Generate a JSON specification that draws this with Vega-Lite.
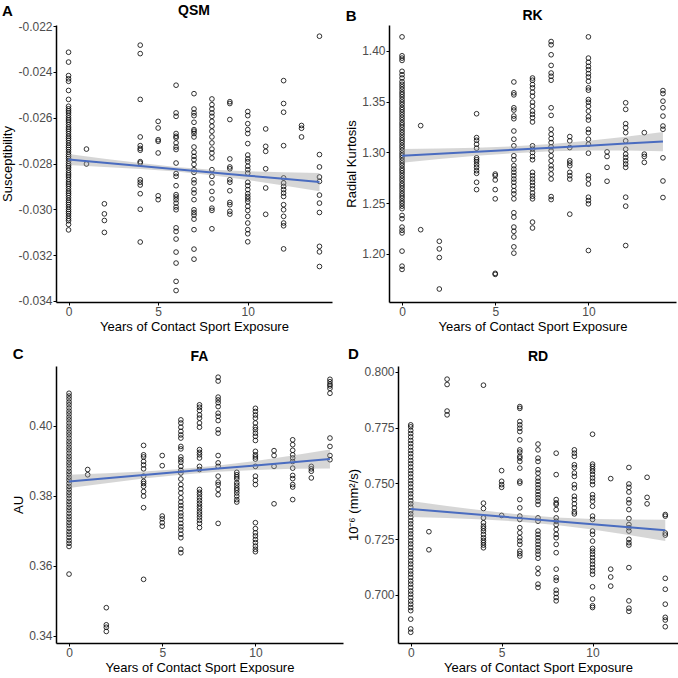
{
"$schema":"https://vega.github.io/schema/vega-lite/v6.json",
"background":"white",
"padding":{"left":1,"top":4,"right":0,"bottom":0},
"config":{"font":"Liberation Sans","view":{"stroke":null},
 "axis":{"grid":false,"domainColor":"black","domainWidth":1.5,"tickColor":"black","tickWidth":1,"tickSize":3,"labelColor":"#4d4d4d","labelFontSize":12,"labelPadding":1,"titleFontSize":13,"titleFontWeight":"normal","titleColor":"black","titlePadding":3},
 "title":{"fontSize":14,"fontWeight":"bold","color":"black"}},
"datasets":{
"pA":[
{"x":0,"y":-0.02314},{"x":0,"y":-0.02357},{"x":0,"y":-0.02416},{"x":0,"y":-0.0243},{"x":0,"y":-0.02441},{"x":0,"y":-0.02481},{"x":0,"y":-0.0252},{"x":0,"y":-0.0309},{"x":0,"y":-0.03066},
{"x":0,"y":-0.0255},{"x":0,"y":-0.02561},{"x":0,"y":-0.0257},{"x":0,"y":-0.02579},{"x":0,"y":-0.0259},{"x":0,"y":-0.02601},{"x":0,"y":-0.0261},{"x":0,"y":-0.02619},{"x":0,"y":-0.0263},{"x":0,"y":-0.02641},{"x":0,"y":-0.0265},{"x":0,"y":-0.02659},{"x":0,"y":-0.0267},{"x":0,"y":-0.02681},{"x":0,"y":-0.0269},{"x":0,"y":-0.02699},{"x":0,"y":-0.0271},{"x":0,"y":-0.02721},{"x":0,"y":-0.0273},{"x":0,"y":-0.02739},{"x":0,"y":-0.0275},{"x":0,"y":-0.02761},{"x":0,"y":-0.0277},{"x":0,"y":-0.02779},{"x":0,"y":-0.0279},{"x":0,"y":-0.02801},{"x":0,"y":-0.0281},{"x":0,"y":-0.02819},{"x":0,"y":-0.0283},{"x":0,"y":-0.02841},{"x":0,"y":-0.0285},{"x":0,"y":-0.02859},{"x":0,"y":-0.0287},{"x":0,"y":-0.02881},{"x":0,"y":-0.0289},{"x":0,"y":-0.02899},{"x":0,"y":-0.0291},{"x":0,"y":-0.02921},{"x":0,"y":-0.0293},{"x":0,"y":-0.02939},{"x":0,"y":-0.0295},{"x":0,"y":-0.02961},{"x":0,"y":-0.0297},{"x":0,"y":-0.02979},{"x":0,"y":-0.0299},{"x":0,"y":-0.03001},{"x":0,"y":-0.0301},{"x":0,"y":-0.03019},{"x":0,"y":-0.0303},{"x":0,"y":-0.03041},{"x":0,"y":-0.0305},
{"x":1,"y":-0.02737},{"x":1,"y":-0.02802},
{"x":2,"y":-0.02976},{"x":2,"y":-0.0302},{"x":2,"y":-0.03049},{"x":2,"y":-0.03101},
{"x":4,"y":-0.02283},{"x":4,"y":-0.0232},{"x":4,"y":-0.0252},{"x":4,"y":-0.02684},{"x":4,"y":-0.02722},{"x":4,"y":-0.02734},{"x":4,"y":-0.02742},{"x":4,"y":-0.02792},{"x":4,"y":-0.02798},{"x":4,"y":-0.02871},{"x":4,"y":-0.02882},{"x":4,"y":-0.02894},{"x":4,"y":-0.02932},{"x":4,"y":-0.03},{"x":4,"y":-0.03143},
{"x":5,"y":-0.02616},{"x":5,"y":-0.02645},{"x":5,"y":-0.02696},{"x":5,"y":-0.02703},{"x":5,"y":-0.02754},{"x":5,"y":-0.02941},{"x":5,"y":-0.02958},
{"x":6,"y":-0.02458},{"x":6,"y":-0.02579},{"x":6,"y":-0.02594},{"x":6,"y":-0.02669},{"x":6,"y":-0.02681},{"x":6,"y":-0.02688},{"x":6,"y":-0.0271},{"x":6,"y":-0.02728},{"x":6,"y":-0.02739},{"x":6,"y":-0.02798},{"x":6,"y":-0.02844},{"x":6,"y":-0.02856},{"x":6,"y":-0.02897},{"x":6,"y":-0.02936},{"x":6,"y":-0.02946},{"x":6,"y":-0.02958},{"x":6,"y":-0.02973},{"x":6,"y":-0.0299},{"x":6,"y":-0.03002},{"x":6,"y":-0.03081},{"x":6,"y":-0.03097},{"x":6,"y":-0.0313},{"x":6,"y":-0.03187},{"x":6,"y":-0.03235},{"x":6,"y":-0.03315},{"x":6,"y":-0.03355},
{"x":7,"y":-0.02495},{"x":7,"y":-0.02562},{"x":7,"y":-0.02579},{"x":7,"y":-0.02591},{"x":7,"y":-0.0262},{"x":7,"y":-0.02652},{"x":7,"y":-0.02659},{"x":7,"y":-0.02669},{"x":7,"y":-0.02684},{"x":7,"y":-0.02728},{"x":7,"y":-0.02751},{"x":7,"y":-0.02769},{"x":7,"y":-0.02783},{"x":7,"y":-0.02804},{"x":7,"y":-0.02827},{"x":7,"y":-0.02839},{"x":7,"y":-0.02871},{"x":7,"y":-0.02885},{"x":7,"y":-0.02914},{"x":7,"y":-0.02929},{"x":7,"y":-0.02958},{"x":7,"y":-0.03002},{"x":7,"y":-0.03014},{"x":7,"y":-0.03025},{"x":7,"y":-0.03043},{"x":7,"y":-0.03089},{"x":7,"y":-0.03174},{"x":7,"y":-0.03218},
{"x":8,"y":-0.02518},{"x":8,"y":-0.02543},{"x":8,"y":-0.02562},{"x":8,"y":-0.02579},{"x":8,"y":-0.02594},{"x":8,"y":-0.02616},{"x":8,"y":-0.02637},{"x":8,"y":-0.02659},{"x":8,"y":-0.02684},{"x":8,"y":-0.0271},{"x":8,"y":-0.02737},{"x":8,"y":-0.02754},{"x":8,"y":-0.02776},{"x":8,"y":-0.02827},{"x":8,"y":-0.02856},{"x":8,"y":-0.02885},{"x":8,"y":-0.02922},{"x":8,"y":-0.02955},{"x":8,"y":-0.02995},{"x":8,"y":-0.03005},{"x":8,"y":-0.03085},
{"x":9,"y":-0.0253},{"x":9,"y":-0.02538},{"x":9,"y":-0.02608},{"x":9,"y":-0.0278},{"x":9,"y":-0.02815},{"x":9,"y":-0.02823},{"x":9,"y":-0.02871},{"x":9,"y":-0.02882},{"x":9,"y":-0.02919},{"x":9,"y":-0.0297},{"x":9,"y":-0.0298},{"x":9,"y":-0.03009},{"x":9,"y":-0.03021},
{"x":10,"y":-0.02573},{"x":10,"y":-0.02591},{"x":10,"y":-0.02626},{"x":10,"y":-0.02652},{"x":10,"y":-0.02669},{"x":10,"y":-0.02713},{"x":10,"y":-0.02763},{"x":10,"y":-0.0278},{"x":10,"y":-0.02792},{"x":10,"y":-0.02812},{"x":10,"y":-0.02827},{"x":10,"y":-0.02842},{"x":10,"y":-0.02882},{"x":10,"y":-0.02897},{"x":10,"y":-0.02914},{"x":10,"y":-0.02932},{"x":10,"y":-0.02944},{"x":10,"y":-0.02955},{"x":10,"y":-0.02967},{"x":10,"y":-0.02987},{"x":10,"y":-0.03005},{"x":10,"y":-0.03031},{"x":10,"y":-0.0306},{"x":10,"y":-0.03089},{"x":10,"y":-0.03107},{"x":10,"y":-0.03142},
{"x":11,"y":-0.02649},{"x":11,"y":-0.02725},{"x":11,"y":-0.02747},{"x":11,"y":-0.02823},{"x":11,"y":-0.02907},{"x":11,"y":-0.03022},
{"x":12,"y":-0.02438},{"x":12,"y":-0.02538},{"x":12,"y":-0.02576},{"x":12,"y":-0.02722},{"x":12,"y":-0.02863},{"x":12,"y":-0.02885},{"x":12,"y":-0.029},{"x":12,"y":-0.02914},{"x":12,"y":-0.02929},{"x":12,"y":-0.02944},{"x":12,"y":-0.0298},{"x":12,"y":-0.03002},{"x":12,"y":-0.03031},{"x":12,"y":-0.0306},{"x":12,"y":-0.03072},{"x":12,"y":-0.03173},
{"x":13,"y":-0.02634},{"x":13,"y":-0.02646},{"x":13,"y":-0.02684},
{"x":14,"y":-0.02244},{"x":14,"y":-0.02761},{"x":14,"y":-0.02815},{"x":14,"y":-0.02859},{"x":14,"y":-0.02878},{"x":14,"y":-0.02938},{"x":14,"y":-0.02973},{"x":14,"y":-0.03014},{"x":14,"y":-0.03162},{"x":14,"y":-0.03186},{"x":14,"y":-0.0325}
],
"fA":[{"x":0,"fit":-0.02783,"lo":-0.02807,"hi":-0.02759},{"x":2,"fit":-0.02797,"lo":-0.02815,"hi":-0.02779},{"x":4,"fit":-0.02811,"lo":-0.02824,"hi":-0.02798},{"x":6,"fit":-0.02825,"lo":-0.02835,"hi":-0.02815},{"x":8,"fit":-0.02839,"lo":-0.02851,"hi":-0.02827},{"x":10,"fit":-0.02853,"lo":-0.02872,"hi":-0.02834},{"x":12,"fit":-0.02867,"lo":-0.02896,"hi":-0.02838},{"x":14,"fit":-0.02881,"lo":-0.02921,"hi":-0.02841}],
"pB":[
{"x":0,"y":1.4137},{"x":0,"y":1.3951},{"x":0,"y":1.3928},{"x":0,"y":1.3905},{"x":0,"y":1.3798},{"x":0,"y":1.3765},{"x":0,"y":1.3732},{"x":0,"y":1.2378},{"x":0,"y":1.2346},{"x":0,"y":1.2264},{"x":0,"y":1.2232},{"x":0,"y":1.2206},{"x":0,"y":1.2027},{"x":0,"y":1.1879},{"x":0,"y":1.1847},
{"x":0,"y":1.2445},{"x":0,"y":1.247},{"x":0,"y":1.2496},{"x":0,"y":1.252},{"x":0,"y":1.2547},{"x":0,"y":1.257},{"x":0,"y":1.2594},{"x":0,"y":1.262},{"x":0,"y":1.2646},{"x":0,"y":1.267},{"x":0,"y":1.2693},{"x":0,"y":1.272},{"x":0,"y":1.2745},{"x":0,"y":1.277},{"x":0,"y":1.2796},{"x":0,"y":1.282},{"x":0,"y":1.2843},{"x":0,"y":1.287},{"x":0,"y":1.2895},{"x":0,"y":1.292},{"x":0,"y":1.2946},{"x":0,"y":1.297},{"x":0,"y":1.2993},{"x":0,"y":1.302},{"x":0,"y":1.3045},{"x":0,"y":1.307},{"x":0,"y":1.3096},{"x":0,"y":1.312},{"x":0,"y":1.3143},{"x":0,"y":1.317},{"x":0,"y":1.3195},{"x":0,"y":1.322},{"x":0,"y":1.3246},{"x":0,"y":1.327},{"x":0,"y":1.3293},{"x":0,"y":1.332},{"x":0,"y":1.3345},{"x":0,"y":1.337},{"x":0,"y":1.3396},{"x":0,"y":1.342},{"x":0,"y":1.3443},{"x":0,"y":1.347},{"x":0,"y":1.3495},{"x":0,"y":1.352},{"x":0,"y":1.3546},{"x":0,"y":1.357},{"x":0,"y":1.3593},{"x":0,"y":1.362},{"x":0,"y":1.3645},{"x":0,"y":1.367},{"x":0,"y":1.3695},
{"x":1,"y":1.3263},{"x":1,"y":1.2238},
{"x":2,"y":1.2124},{"x":2,"y":1.2049},{"x":2,"y":1.1964},{"x":2,"y":1.1654},
{"x":4,"y":1.338},{"x":4,"y":1.3145},{"x":4,"y":1.3119},{"x":4,"y":1.308},{"x":4,"y":1.3041},{"x":4,"y":1.2946},{"x":4,"y":1.2927},{"x":4,"y":1.2907},{"x":4,"y":1.2878},{"x":4,"y":1.2852},{"x":4,"y":1.2819},{"x":4,"y":1.2793},{"x":4,"y":1.2705},{"x":4,"y":1.2633},
{"x":5,"y":1.2786},{"x":5,"y":1.277},{"x":5,"y":1.2728},{"x":5,"y":1.2633},{"x":5,"y":1.2542},{"x":5,"y":1.1808},{"x":5,"y":1.1798},
{"x":6,"y":1.3693},{"x":6,"y":1.3586},{"x":6,"y":1.3566},{"x":6,"y":1.3439},{"x":6,"y":1.3416},{"x":6,"y":1.3357},{"x":6,"y":1.3331},{"x":6,"y":1.321},{"x":6,"y":1.3129},{"x":6,"y":1.3064},{"x":6,"y":1.2966},{"x":6,"y":1.2927},{"x":6,"y":1.2868},{"x":6,"y":1.2835},{"x":6,"y":1.2803},{"x":6,"y":1.277},{"x":6,"y":1.2737},{"x":6,"y":1.2705},{"x":6,"y":1.2666},{"x":6,"y":1.2623},{"x":6,"y":1.2591},{"x":6,"y":1.2542},{"x":6,"y":1.2405},{"x":6,"y":1.2362},{"x":6,"y":1.2264},{"x":6,"y":1.2222},{"x":6,"y":1.2166},{"x":6,"y":1.2069},{"x":6,"y":1.2007},
{"x":7,"y":1.3732},{"x":7,"y":1.371},{"x":7,"y":1.3667},{"x":7,"y":1.3635},{"x":7,"y":1.3592},{"x":7,"y":1.3553},{"x":7,"y":1.3494},{"x":7,"y":1.3455},{"x":7,"y":1.3406},{"x":7,"y":1.3374},{"x":7,"y":1.3341},{"x":7,"y":1.3299},{"x":7,"y":1.3064},{"x":7,"y":1.3031},{"x":7,"y":1.2998},{"x":7,"y":1.2959},{"x":7,"y":1.2927},{"x":7,"y":1.2803},{"x":7,"y":1.277},{"x":7,"y":1.2737},{"x":7,"y":1.2705},{"x":7,"y":1.2672},{"x":7,"y":1.264},{"x":7,"y":1.26},{"x":7,"y":1.2568},{"x":7,"y":1.2542},{"x":7,"y":1.2313},{"x":7,"y":1.2255},
{"x":8,"y":1.4091},{"x":8,"y":1.4059},{"x":8,"y":1.3961},{"x":8,"y":1.3856},{"x":8,"y":1.3781},{"x":8,"y":1.3749},{"x":8,"y":1.371},{"x":8,"y":1.3439},{"x":8,"y":1.3364},{"x":8,"y":1.3227},{"x":8,"y":1.3178},{"x":8,"y":1.3135},{"x":8,"y":1.3096},{"x":8,"y":1.3054},{"x":8,"y":1.3015},{"x":8,"y":1.2966},{"x":8,"y":1.2917},{"x":8,"y":1.2868},{"x":8,"y":1.2835},{"x":8,"y":1.2786},{"x":8,"y":1.2737},{"x":8,"y":1.2564},{"x":8,"y":1.2535},
{"x":9,"y":1.3155},{"x":9,"y":1.3113},{"x":9,"y":1.3047},{"x":9,"y":1.2917},{"x":9,"y":1.2894},{"x":9,"y":1.2868},{"x":9,"y":1.2803},{"x":9,"y":1.277},{"x":9,"y":1.2737},{"x":9,"y":1.2391},
{"x":10,"y":1.4137},{"x":10,"y":1.3928},{"x":10,"y":1.3886},{"x":10,"y":1.3847},{"x":10,"y":1.3814},{"x":10,"y":1.3775},{"x":10,"y":1.3742},{"x":10,"y":1.37},{"x":10,"y":1.3635},{"x":10,"y":1.3612},{"x":10,"y":1.352},{"x":10,"y":1.3494},{"x":10,"y":1.3455},{"x":10,"y":1.3406},{"x":10,"y":1.3351},{"x":10,"y":1.3318},{"x":10,"y":1.3227},{"x":10,"y":1.3194},{"x":10,"y":1.3129},{"x":10,"y":1.308},{"x":10,"y":1.2992},{"x":10,"y":1.277},{"x":10,"y":1.2737},{"x":10,"y":1.2688},{"x":10,"y":1.2558},{"x":10,"y":1.2525},{"x":10,"y":1.2493},{"x":10,"y":1.2033},
{"x":11,"y":1.3005},{"x":11,"y":1.2959},{"x":11,"y":1.2852},{"x":11,"y":1.2715},
{"x":12,"y":1.3488},{"x":12,"y":1.3423},{"x":12,"y":1.3282},{"x":12,"y":1.3243},{"x":12,"y":1.3194},{"x":12,"y":1.3113},{"x":12,"y":1.3031},{"x":12,"y":1.2982},{"x":12,"y":1.295},{"x":12,"y":1.2917},{"x":12,"y":1.2885},{"x":12,"y":1.2852},{"x":12,"y":1.2558},{"x":12,"y":1.247},{"x":12,"y":1.2082},
{"x":13,"y":1.3194},{"x":13,"y":1.2982},{"x":13,"y":1.2959},{"x":13,"y":1.2901},
{"x":14,"y":1.3608},{"x":14,"y":1.3579},{"x":14,"y":1.3504},{"x":14,"y":1.3439},{"x":14,"y":1.3357},{"x":14,"y":1.3259},{"x":14,"y":1.3227},{"x":14,"y":1.2946},{"x":14,"y":1.2718},{"x":14,"y":1.2555}
],
"fB":[{"x":0,"fit":1.2966,"lo":1.2898,"hi":1.3034},{"x":2,"fit":1.2986,"lo":1.2934,"hi":1.3038},{"x":4,"fit":1.3006,"lo":1.2966,"hi":1.3046},{"x":6,"fit":1.3026,"lo":1.2992,"hi":1.306},{"x":8,"fit":1.3046,"lo":1.301,"hi":1.3082},{"x":10,"fit":1.3066,"lo":1.3018,"hi":1.3114},{"x":12,"fit":1.3086,"lo":1.3018,"hi":1.3154},{"x":14,"fit":1.3106,"lo":1.3011,"hi":1.3201}],
"pC":[
{"x":0,"y":0.3576},{"x":0,"y":0.3655},{"x":0,"y":0.3664},{"x":0,"y":0.3672},{"x":0,"y":0.3681},{"x":0,"y":0.369},{"x":0,"y":0.3698},{"x":0,"y":0.3707},{"x":0,"y":0.3716},{"x":0,"y":0.3724},{"x":0,"y":0.3733},{"x":0,"y":0.3741},{"x":0,"y":0.375},{"x":0,"y":0.3759},{"x":0,"y":0.3767},{"x":0,"y":0.3776},{"x":0,"y":0.3784},{"x":0,"y":0.3793},{"x":0,"y":0.3802},{"x":0,"y":0.381},{"x":0,"y":0.3819},{"x":0,"y":0.3827},{"x":0,"y":0.3836},{"x":0,"y":0.3845},{"x":0,"y":0.3853},{"x":0,"y":0.3862},{"x":0,"y":0.387},{"x":0,"y":0.3879},{"x":0,"y":0.3888},{"x":0,"y":0.3896},{"x":0,"y":0.3905},{"x":0,"y":0.3913},{"x":0,"y":0.3922},{"x":0,"y":0.3931},{"x":0,"y":0.3939},{"x":0,"y":0.3948},{"x":0,"y":0.3956},{"x":0,"y":0.3965},{"x":0,"y":0.3974},{"x":0,"y":0.3982},{"x":0,"y":0.3991},{"x":0,"y":0.3999},{"x":0,"y":0.4008},{"x":0,"y":0.4017},{"x":0,"y":0.4025},{"x":0,"y":0.4034},{"x":0,"y":0.4042},{"x":0,"y":0.4051},{"x":0,"y":0.406},{"x":0,"y":0.4068},{"x":0,"y":0.4077},{"x":0,"y":0.4085},{"x":0,"y":0.4093},
{"x":1,"y":0.3875},{"x":1,"y":0.386},
{"x":2,"y":0.348},{"x":2,"y":0.3431},{"x":2,"y":0.3424},{"x":2,"y":0.3412},
{"x":4,"y":0.3944},{"x":4,"y":0.3917},{"x":4,"y":0.3911},{"x":4,"y":0.3898},{"x":4,"y":0.3888},{"x":4,"y":0.3877},{"x":4,"y":0.3856},{"x":4,"y":0.3841},{"x":4,"y":0.3835},{"x":4,"y":0.3827},{"x":4,"y":0.3812},{"x":4,"y":0.3799},{"x":4,"y":0.3766},{"x":4,"y":0.3561},
{"x":5,"y":0.3915},{"x":5,"y":0.3886},{"x":5,"y":0.3742},{"x":5,"y":0.3734},{"x":5,"y":0.3723},{"x":5,"y":0.3713},
{"x":6,"y":0.4017},{"x":6,"y":0.4008},{"x":6,"y":0.3996},{"x":6,"y":0.3984},{"x":6,"y":0.3974},{"x":6,"y":0.3965},{"x":6,"y":0.3941},{"x":6,"y":0.3934},{"x":6,"y":0.3911},{"x":6,"y":0.3903},{"x":6,"y":0.3896},{"x":6,"y":0.3884},{"x":6,"y":0.3873},{"x":6,"y":0.3865},{"x":6,"y":0.3848},{"x":6,"y":0.3832},{"x":6,"y":0.382},{"x":6,"y":0.3808},{"x":6,"y":0.3794},{"x":6,"y":0.3782},{"x":6,"y":0.3772},{"x":6,"y":0.3763},{"x":6,"y":0.3751},{"x":6,"y":0.3742},{"x":6,"y":0.3732},{"x":6,"y":0.3721},{"x":6,"y":0.3711},{"x":6,"y":0.3702},{"x":6,"y":0.369},{"x":6,"y":0.368},{"x":6,"y":0.3647},{"x":6,"y":0.3637},
{"x":7,"y":0.406},{"x":7,"y":0.4053},{"x":7,"y":0.4044},{"x":7,"y":0.4031},{"x":7,"y":0.4022},{"x":7,"y":0.4008},{"x":7,"y":0.3996},{"x":7,"y":0.3932},{"x":7,"y":0.3924},{"x":7,"y":0.3917},{"x":7,"y":0.3908},{"x":7,"y":0.3884},{"x":7,"y":0.3875},{"x":7,"y":0.3818},{"x":7,"y":0.381},{"x":7,"y":0.3803},{"x":7,"y":0.3794},{"x":7,"y":0.3786},{"x":7,"y":0.3778},{"x":7,"y":0.377},{"x":7,"y":0.3763},{"x":7,"y":0.3754},{"x":7,"y":0.3747},{"x":7,"y":0.3739},{"x":7,"y":0.373},{"x":7,"y":0.3721},{"x":7,"y":0.3709},
{"x":8,"y":0.4139},{"x":8,"y":0.4128},{"x":8,"y":0.4082},{"x":8,"y":0.4074},{"x":8,"y":0.4066},{"x":8,"y":0.4055},{"x":8,"y":0.4036},{"x":8,"y":0.4027},{"x":8,"y":0.4015},{"x":8,"y":0.3989},{"x":8,"y":0.3979},{"x":8,"y":0.3915},{"x":8,"y":0.3894},{"x":8,"y":0.3884},{"x":8,"y":0.3856},{"x":8,"y":0.3839},{"x":8,"y":0.3832},{"x":8,"y":0.3818},{"x":8,"y":0.3803},{"x":8,"y":0.3721},
{"x":9,"y":0.3867},{"x":9,"y":0.386},{"x":9,"y":0.3854},{"x":9,"y":0.3848},{"x":9,"y":0.3837},{"x":9,"y":0.383},{"x":9,"y":0.3822},{"x":9,"y":0.3816},{"x":9,"y":0.3808},{"x":9,"y":0.3799},{"x":9,"y":0.3789},{"x":9,"y":0.3782},
{"x":10,"y":0.405},{"x":10,"y":0.4041},{"x":10,"y":0.4031},{"x":10,"y":0.4022},{"x":10,"y":0.4008},{"x":10,"y":0.3996},{"x":10,"y":0.3989},{"x":10,"y":0.3979},{"x":10,"y":0.397},{"x":10,"y":0.3958},{"x":10,"y":0.3927},{"x":10,"y":0.3917},{"x":10,"y":0.3911},{"x":10,"y":0.3905},{"x":10,"y":0.3884},{"x":10,"y":0.3856},{"x":10,"y":0.3844},{"x":10,"y":0.3832},{"x":10,"y":0.3723},{"x":10,"y":0.3706},{"x":10,"y":0.3694},{"x":10,"y":0.3685},{"x":10,"y":0.3675},{"x":10,"y":0.3666},{"x":10,"y":0.3656},{"x":10,"y":0.3647},{"x":10,"y":0.364},
{"x":11,"y":0.3929},{"x":11,"y":0.3915},{"x":11,"y":0.3884},{"x":11,"y":0.3777},
{"x":12,"y":0.396},{"x":12,"y":0.3946},{"x":12,"y":0.393},{"x":12,"y":0.3917},{"x":12,"y":0.3908},{"x":12,"y":0.3898},{"x":12,"y":0.3879},{"x":12,"y":0.3858},{"x":12,"y":0.3849},{"x":12,"y":0.3832},{"x":12,"y":0.3825},{"x":12,"y":0.3789},
{"x":13,"y":0.3884},{"x":13,"y":0.3877},{"x":13,"y":0.387},{"x":13,"y":0.3851},
{"x":14,"y":0.4133},{"x":14,"y":0.4126},{"x":14,"y":0.4119},{"x":14,"y":0.4114},{"x":14,"y":0.4107},{"x":14,"y":0.4093},{"x":14,"y":0.3965},{"x":14,"y":0.3941},{"x":14,"y":0.3915},{"x":14,"y":0.3903}
],
"fC":[{"x":0,"fit":0.3841,"lo":0.3822,"hi":0.386},{"x":2,"fit":0.38501,"lo":0.38361,"hi":0.38641},{"x":4,"fit":0.38593,"lo":0.38493,"hi":0.38693},{"x":6,"fit":0.38684,"lo":0.38604,"hi":0.38764},{"x":8,"fit":0.38776,"lo":0.38686,"hi":0.38866},{"x":10,"fit":0.38867,"lo":0.38737,"hi":0.38997},{"x":12,"fit":0.38959,"lo":0.38769,"hi":0.39149},{"x":14,"fit":0.3905,"lo":0.3878,"hi":0.3932}],
"pD":[
{"x":0,"y":0.6943},{"x":0,"y":0.6929},{"x":0,"y":0.6891},{"x":0,"y":0.6847},{"x":0,"y":0.6832},
{"x":0,"y":0.6958},{"x":0,"y":0.6972},{"x":0,"y":0.6988},{"x":0,"y":0.7003},{"x":0,"y":0.7017},{"x":0,"y":0.7033},{"x":0,"y":0.7048},{"x":0,"y":0.7062},{"x":0,"y":0.7078},{"x":0,"y":0.7093},{"x":0,"y":0.7107},{"x":0,"y":0.7123},{"x":0,"y":0.7138},{"x":0,"y":0.7152},{"x":0,"y":0.7168},{"x":0,"y":0.7183},{"x":0,"y":0.7197},{"x":0,"y":0.7213},{"x":0,"y":0.7228},{"x":0,"y":0.7242},{"x":0,"y":0.7258},{"x":0,"y":0.7273},{"x":0,"y":0.7287},{"x":0,"y":0.7303},{"x":0,"y":0.7318},{"x":0,"y":0.7332},{"x":0,"y":0.7348},{"x":0,"y":0.7363},{"x":0,"y":0.7377},{"x":0,"y":0.7393},{"x":0,"y":0.7408},{"x":0,"y":0.7422},{"x":0,"y":0.7438},{"x":0,"y":0.7453},{"x":0,"y":0.7467},{"x":0,"y":0.7483},{"x":0,"y":0.7498},{"x":0,"y":0.7512},{"x":0,"y":0.7528},{"x":0,"y":0.7543},{"x":0,"y":0.7557},{"x":0,"y":0.7573},{"x":0,"y":0.7588},{"x":0,"y":0.7602},{"x":0,"y":0.7618},{"x":0,"y":0.7633},{"x":0,"y":0.7647},{"x":0,"y":0.7663},{"x":0,"y":0.7678},{"x":0,"y":0.7692},{"x":0,"y":0.7708},{"x":0,"y":0.7723},{"x":0,"y":0.7737},{"x":0,"y":0.7753},{"x":0,"y":0.7762},
{"x":1,"y":0.7283},{"x":1,"y":0.7202},
{"x":2,"y":0.7967},{"x":2,"y":0.7943},{"x":2,"y":0.7824},{"x":2,"y":0.7807},
{"x":4,"y":0.794},{"x":4,"y":0.7411},{"x":4,"y":0.7387},{"x":4,"y":0.7345},{"x":4,"y":0.7323},{"x":4,"y":0.7308},{"x":4,"y":0.7298},{"x":4,"y":0.7286},{"x":4,"y":0.7271},{"x":4,"y":0.7256},{"x":4,"y":0.7244},{"x":4,"y":0.7234},{"x":4,"y":0.7223},{"x":4,"y":0.7211},
{"x":5,"y":0.7557},{"x":5,"y":0.7509},{"x":5,"y":0.7494},{"x":5,"y":0.7482},{"x":5,"y":0.7356},
{"x":6,"y":0.7844},{"x":6,"y":0.7836},{"x":6,"y":0.7777},{"x":6,"y":0.7762},{"x":6,"y":0.7747},{"x":6,"y":0.7732},{"x":6,"y":0.7695},{"x":6,"y":0.765},{"x":6,"y":0.764},{"x":6,"y":0.7621},{"x":6,"y":0.7613},{"x":6,"y":0.7598},{"x":6,"y":0.7568},{"x":6,"y":0.7509},{"x":6,"y":0.7501},{"x":6,"y":0.7427},{"x":6,"y":0.739},{"x":6,"y":0.7353},{"x":6,"y":0.7338},{"x":6,"y":0.7301},{"x":6,"y":0.7278},{"x":6,"y":0.7256},{"x":6,"y":0.7241},{"x":6,"y":0.7226},{"x":6,"y":0.7196},{"x":6,"y":0.7185},{"x":6,"y":0.7174},
{"x":7,"y":0.7676},{"x":7,"y":0.765},{"x":7,"y":0.7613},{"x":7,"y":0.7598},{"x":7,"y":0.7561},{"x":7,"y":0.7546},{"x":7,"y":0.7524},{"x":7,"y":0.7509},{"x":7,"y":0.7494},{"x":7,"y":0.7479},{"x":7,"y":0.7464},{"x":7,"y":0.7449},{"x":7,"y":0.7435},{"x":7,"y":0.742},{"x":7,"y":0.7405},{"x":7,"y":0.7345},{"x":7,"y":0.733},{"x":7,"y":0.7286},{"x":7,"y":0.7271},{"x":7,"y":0.7256},{"x":7,"y":0.7241},{"x":7,"y":0.7226},{"x":7,"y":0.7211},{"x":7,"y":0.7196},{"x":7,"y":0.7182},{"x":7,"y":0.7164},{"x":7,"y":0.7119},{"x":7,"y":0.7095},{"x":7,"y":0.7048},{"x":7,"y":0.7033},
{"x":8,"y":0.7635},{"x":8,"y":0.7539},{"x":8,"y":0.7427},{"x":8,"y":0.7412},{"x":8,"y":0.7405},{"x":8,"y":0.7382},{"x":8,"y":0.7345},{"x":8,"y":0.733},{"x":8,"y":0.7315},{"x":8,"y":0.7293},{"x":8,"y":0.7271},{"x":8,"y":0.7256},{"x":8,"y":0.7226},{"x":8,"y":0.7189},{"x":8,"y":0.7115},{"x":8,"y":0.7077},{"x":8,"y":0.7065},{"x":8,"y":0.7021},{"x":8,"y":0.7006},{"x":8,"y":0.6988},{"x":8,"y":0.6973},
{"x":9,"y":0.765},{"x":9,"y":0.7635},{"x":9,"y":0.7621},{"x":9,"y":0.7583},{"x":9,"y":0.7571},{"x":9,"y":0.7546},{"x":9,"y":0.7531},{"x":9,"y":0.7494},{"x":9,"y":0.7479},{"x":9,"y":0.7442},{"x":9,"y":0.7427},{"x":9,"y":0.7408},{"x":9,"y":0.739},{"x":9,"y":0.7372},{"x":9,"y":0.7363},
{"x":10,"y":0.772},{"x":10,"y":0.7586},{"x":10,"y":0.7576},{"x":10,"y":0.7565},{"x":10,"y":0.7554},{"x":10,"y":0.7539},{"x":10,"y":0.7524},{"x":10,"y":0.7509},{"x":10,"y":0.7494},{"x":10,"y":0.7449},{"x":10,"y":0.7435},{"x":10,"y":0.742},{"x":10,"y":0.7397},{"x":10,"y":0.7353},{"x":10,"y":0.7338},{"x":10,"y":0.7286},{"x":10,"y":0.7271},{"x":10,"y":0.7241},{"x":10,"y":0.7208},{"x":10,"y":0.7196},{"x":10,"y":0.7182},{"x":10,"y":0.7167},{"x":10,"y":0.7152},{"x":10,"y":0.7137},{"x":10,"y":0.7122},{"x":10,"y":0.7107},{"x":10,"y":0.7092},{"x":10,"y":0.7036},{"x":10,"y":0.6981},{"x":10,"y":0.6951},{"x":10,"y":0.6943},
{"x":11,"y":0.7521},{"x":11,"y":0.7115},{"x":11,"y":0.708},{"x":11,"y":0.7039},
{"x":12,"y":0.7571},{"x":12,"y":0.7497},{"x":12,"y":0.7482},{"x":12,"y":0.7461},{"x":12,"y":0.7427},{"x":12,"y":0.7412},{"x":12,"y":0.7382},{"x":12,"y":0.7342},{"x":12,"y":0.7315},{"x":12,"y":0.7301},{"x":12,"y":0.7286},{"x":12,"y":0.7249},{"x":12,"y":0.7234},{"x":12,"y":0.7223},{"x":12,"y":0.7122},{"x":12,"y":0.6973},{"x":12,"y":0.694},{"x":12,"y":0.6926},
{"x":13,"y":0.7527},{"x":13,"y":0.7437},{"x":13,"y":0.7408},
{"x":14,"y":0.736},{"x":14,"y":0.7353},{"x":14,"y":0.7277},{"x":14,"y":0.7268},{"x":14,"y":0.7074},{"x":14,"y":0.7025},{"x":14,"y":0.6958},{"x":14,"y":0.6899},{"x":14,"y":0.6887},{"x":14,"y":0.6857}
],
"fD":[{"x":0,"fit":0.7385,"lo":0.7349,"hi":0.7421},{"x":2,"fit":0.73713,"lo":0.73443,"hi":0.73983},{"x":4,"fit":0.73576,"lo":0.73376,"hi":0.73776},{"x":6,"fit":0.73439,"lo":0.73279,"hi":0.73599},{"x":8,"fit":0.73302,"lo":0.73132,"hi":0.73472},{"x":10,"fit":0.73164,"lo":0.72924,"hi":0.73404},{"x":12,"fit":0.73027,"lo":0.72677,"hi":0.73377},{"x":14,"fit":0.7289,"lo":0.7241,"hi":0.7337}]
},
"vconcat":[
{"spacing":13,"hconcat":[
 {"title":{"text":"A","anchor":"start","frame":"bounds","fontSize":15,"dy":19},
  "vconcat":[{"title":{"text":"QSM","anchor":"middle","offset":2},"width":276,"height":277,
   "encoding":{"x":{"field":"x","type":"quantitative","title":"Years of Contact Sport Exposure","scale":{"domain":[-0.7,14.7],"nice":false,"zero":false},"axis":{"values":[0,5,10]}}},
   "layer":[
    {"data":{"name":"pA"},"mark":{"type":"point","shape":"circle","filled":false,"color":"black","size":22,"strokeWidth":0.8,"opacity":1},
     "encoding":{"y":{"field":"y","type":"quantitative","title":"Susceptibility","scale":{"domain":[-0.03405,-0.02195],"nice":false,"zero":false},"axis":{"values":[-0.034,-0.032,-0.03,-0.028,-0.026,-0.024,-0.022],"labelExpr":"replace(format(datum.value,'.3f'),'−','-')"}}}},
    {"data":{"name":"fA"},"mark":{"type":"area","color":"#999999","opacity":0.4},"encoding":{"y":{"field":"lo","type":"quantitative","title":"Susceptibility"},"y2":{"field":"hi"}}},
    {"data":{"name":"fA"},"mark":{"type":"line","color":"#4a6cc0","strokeWidth":2},"encoding":{"y":{"field":"fit","type":"quantitative","title":"Susceptibility"}}}
   ]}]},
 {"title":{"text":"B","anchor":"start","frame":"bounds","fontSize":15,"dy":19},
  "vconcat":[{"title":{"text":"RK","anchor":"middle","offset":2},"width":287,"height":277,
   "encoding":{"x":{"field":"x","type":"quantitative","title":"Years of Contact Sport Exposure","scale":{"domain":[-0.7,14.7],"nice":false,"zero":false},"axis":{"values":[0,5,10]}}},
   "layer":[
    {"data":{"name":"pB"},"mark":{"type":"point","shape":"circle","filled":false,"color":"black","size":22,"strokeWidth":0.8,"opacity":1},
     "encoding":{"y":{"field":"y","type":"quantitative","title":"Radial Kurtosis","scale":{"domain":[1.1526,1.4254],"nice":false,"zero":false},"axis":{"values":[1.2,1.25,1.3,1.35,1.4],"format":".2f"}}}},
    {"data":{"name":"fB"},"mark":{"type":"area","color":"#999999","opacity":0.4},"encoding":{"y":{"field":"lo","type":"quantitative","title":"Radial Kurtosis"},"y2":{"field":"hi"}}},
    {"data":{"name":"fB"},"mark":{"type":"line","color":"#4a6cc0","strokeWidth":2},"encoding":{"y":{"field":"fit","type":"quantitative","title":"Radial Kurtosis"}}}
   ]}]}
]},
{"spacing":4,"hconcat":[
 {"title":{"text":"C","anchor":"start","frame":"bounds","fontSize":15,"dy":16},
  "vconcat":[{"title":{"text":"FA","anchor":"middle","offset":2},"width":287,"height":277,
   "encoding":{"x":{"field":"x","type":"quantitative","title":"Years of Contact Sport Exposure","scale":{"domain":[-0.7,14.7],"nice":false,"zero":false},"axis":{"values":[0,5,10]}}},
   "layer":[
    {"data":{"name":"pC"},"mark":{"type":"point","shape":"circle","filled":false,"color":"black","size":22,"strokeWidth":0.8,"opacity":1},
     "encoding":{"y":{"field":"y","type":"quantitative","title":"AU","scale":{"domain":[0.3379,0.4171],"nice":false,"zero":false},"axis":{"values":[0.34,0.36,0.38,0.4],"format":".2f"}}}},
    {"data":{"name":"fC"},"mark":{"type":"area","color":"#999999","opacity":0.4},"encoding":{"y":{"field":"lo","type":"quantitative","title":"AU"},"y2":{"field":"hi"}}},
    {"data":{"name":"fC"},"mark":{"type":"line","color":"#4a6cc0","strokeWidth":2},"encoding":{"y":{"field":"fit","type":"quantitative","title":"AU"}}}
   ]}]},
 {"title":{"text":"D","anchor":"start","frame":"bounds","fontSize":15,"dy":16},
  "vconcat":[{"title":{"text":"RD","anchor":"middle","offset":2},"width":280,"height":277,
   "encoding":{"x":{"field":"x","type":"quantitative","title":"Years of Contact Sport Exposure","scale":{"domain":[-0.7,14.7],"nice":false,"zero":false},"axis":{"values":[0,5,10]}}},
   "layer":[
    {"data":{"name":"pD"},"mark":{"type":"point","shape":"circle","filled":false,"color":"black","size":22,"strokeWidth":0.8,"opacity":1},
     "encoding":{"y":{"field":"y","type":"quantitative","title":"10⁻⁶ (mm²/s)","scale":{"domain":[0.6784,0.8026],"nice":false,"zero":false},"axis":{"values":[0.7,0.725,0.75,0.775,0.8],"format":".3f"}}}},
    {"data":{"name":"fD"},"mark":{"type":"area","color":"#999999","opacity":0.4},"encoding":{"y":{"field":"lo","type":"quantitative","title":"10⁻⁶ (mm²/s)"},"y2":{"field":"hi"}}},
    {"data":{"name":"fD"},"mark":{"type":"line","color":"#4a6cc0","strokeWidth":2},"encoding":{"y":{"field":"fit","type":"quantitative","title":"10⁻⁶ (mm²/s)"}}}
   ]}]}
]}
],
"spacing":13
}
